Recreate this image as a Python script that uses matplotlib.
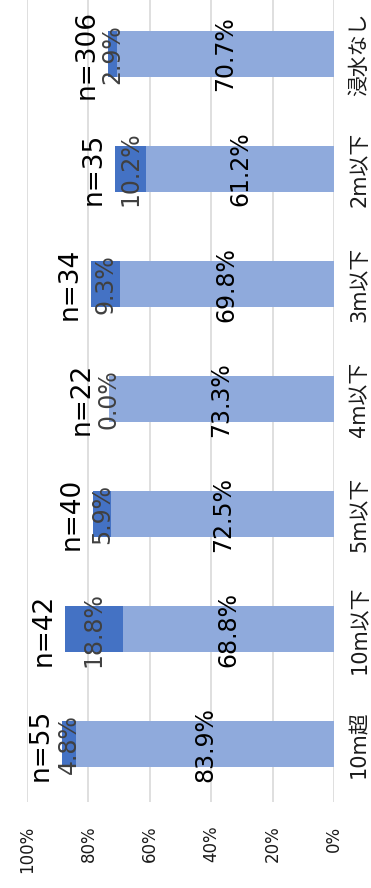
import matplotlib
matplotlib.use("Agg")
import matplotlib.pyplot as plt
import numpy as np

plt.rcParams['font.family'] = ['DejaVu Sans', 'Noto Sans CJK JP']

# data (bottom to top in the rotated picture)
categories = ['10m超', '10m以下', '5m以下', '4m以下', '3m以下', '2m以下', '浸水なし']
light_vals = [83.9, 68.8, 72.5, 73.3, 69.8, 61.2, 70.7]
dark_vals = [4.8, 18.8, 5.9, 0.0, 9.3, 10.2, 2.9]
n_counts = [55, 42, 40, 22, 34, 35, 306]
pct_ticks = [0, 20, 40, 60, 80, 100]

light_col = '#8faadc'
dark_col = '#4472c4'

fig = plt.figure(figsize=(3.71, 8.88), dpi=100)
ax = fig.add_axes([27 / 371, 86 / 888, 307 / 371, 802 / 888])

y = np.arange(len(categories))
light = np.array(light_vals)
dark = np.array(dark_vals)

ax.barh(y, light, height=0.4, color=light_col, zorder=2)
ax.barh(y, dark, left=light, height=0.4, color=dark_col, zorder=2)

# labels
for i in range(len(categories)):
    ax.text(light[i] / 2, y[i], f'{light[i]:.1f}%', rotation=90,
            ha='center', va='center', fontsize=17, color='black', zorder=3)
    ax.text(light[i] + dark[i] / 2, y[i], f'{dark[i]:.1f}%', rotation=90,
            ha='center', va='center', fontsize=17, color='#404040', zorder=3)
    # n label sits past the end of the stack (or past the small label)
    ax.text(light[i] + max(dark[i], 2.0) + 7, y[i], f'n={n_counts[i]}',
            rotation=90, ha='center', va='center', fontsize=19,
            color='black', zorder=3)

ax.set_xlim(100, 0)
ax.set_ylim(-0.5, 6.47)

ax.set_xticks(pct_ticks)
ax.set_xticklabels([f'{t}%' for t in pct_ticks], rotation=90, fontsize=12,
                   color='#1a1a1a')
ax.tick_params(axis='x', length=0, pad=17)

ax.yaxis.tick_right()
ax.set_yticks(y)
ax.set_yticklabels(categories, rotation=90, va='center', fontsize=15,
                   color='#1a1a1a')
ax.tick_params(axis='y', length=0, pad=11)

ax.grid(axis='x', color='#d9d9d9', linewidth=1.2, zorder=0)
for s in ax.spines.values():
    s.set_visible(False)

fig.savefig('out.png', dpi=100)
